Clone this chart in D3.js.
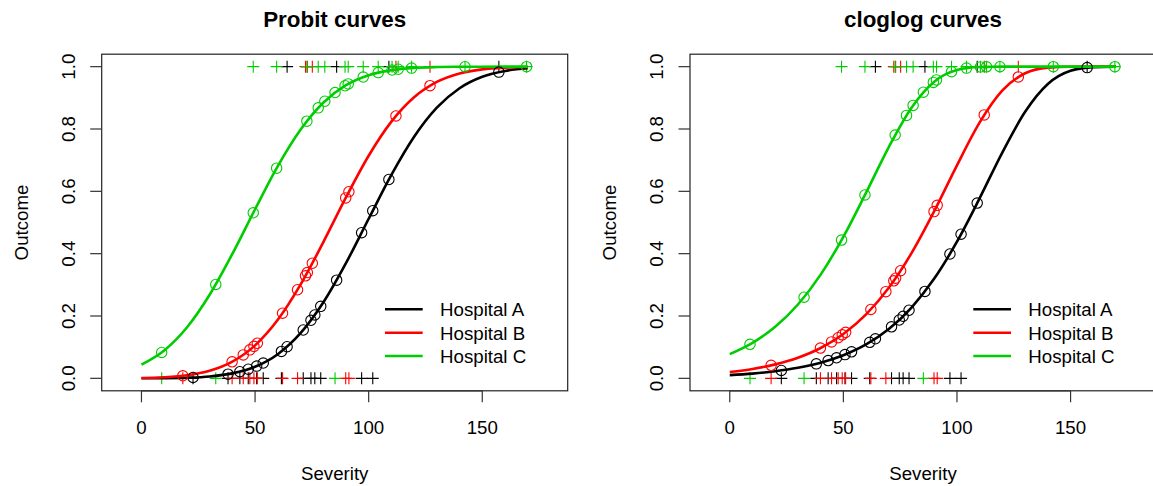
<!DOCTYPE html>
<html>
<head>
<meta charset="utf-8">
<script src="https://cdn.jsdelivr.net/npm/d3@7"></script>
<style>
  html, body { margin: 0; padding: 0; background: #ffffff; }
  svg { display: block; }
  text { font-family: "Liberation Sans", Arial, Helvetica, sans-serif; fill: #000; }
</style>
</head>
<body>
<svg id="chart" width="1153" height="486"></svg>
<script>
// ---------------- data ----------------
const hospitals = ["Hospital A", "Hospital B", "Hospital C"];
const colors = ["#000000", "#FF0000", "#00CD00"];
const panelTitles = ["Probit curves", "cloglog curves"];
const xTicks = [0, 50, 100, 150];
const yTicks = [0.0, 0.2, 0.4, 0.6, 0.8, 1.0];
const yTickLabels = ["0.0", "0.2", "0.4", "0.6", "0.8", "1.0"];

// observations: severity and outcome (0/1)
const severityA = [22.7, 38.1, 43.3, 47.0, 50.7, 53.6, 61.6, 64.1, 71.2, 74.6, 76.3, 78.9, 85.9, 96.9, 101.8, 108.9, 157.3];
const outcomeA  = [0, 0, 0, 0, 0, 0, 0, 1, 0, 0, 0, 0, 1, 0, 0, 1, 1];
const severityB = [18.2, 39.9, 44.8, 47.7, 49.5, 51.0, 62.1, 68.7, 72.2, 73.0, 75.2, 89.9, 91.3, 112.0, 127.0];
const outcomeB  = [0, 0, 0, 0, 0, 0, 0, 0, 1, 1, 1, 0, 0, 1, 1];
const severityC = [8.9, 32.7, 49.2, 59.5, 72.8, 77.8, 80.7, 85.2, 89.6, 91.0, 97.6, 104.2, 110.3, 113.0, 118.9, 142.4, 169.5];
const outcomeC  = [0, 0, 1, 1, 1, 1, 1, 0, 1, 1, 1, 1, 1, 1, 1, 1, 1];

// fitted probabilities at each observation (circles)
const probitFitA = [0.0028, 0.0133, 0.0213, 0.0291, 0.0392, 0.0491, 0.0863, 0.1015, 0.1550, 0.1862, 0.2033, 0.2309, 0.3149, 0.4673, 0.5378, 0.6380, 0.9826];
const probitFitB = [0.0081, 0.0530, 0.0752, 0.0914, 0.1026, 0.1126, 0.2090, 0.2843, 0.3289, 0.3394, 0.3692, 0.5789, 0.5987, 0.8418, 0.9390];
const probitFitC = [0.0830, 0.3012, 0.5311, 0.6744, 0.8251, 0.8678, 0.8890, 0.9170, 0.9387, 0.9446, 0.9667, 0.9810, 0.9892, 0.9917, 0.9954, 0.9997, 1.0000];
const cloglogFitA = [0.0253, 0.0465, 0.0570, 0.0659, 0.0761, 0.0851, 0.1155, 0.1269, 0.1653, 0.1871, 0.1991, 0.2185, 0.2788, 0.3990, 0.4624, 0.5623, 0.9970];
const cloglogFitB = [0.0417, 0.0971, 0.1169, 0.1304, 0.1396, 0.1475, 0.2210, 0.2782, 0.3129, 0.3213, 0.3453, 0.5350, 0.5550, 0.8453, 0.9671];
const cloglogFitC = [0.1091, 0.2603, 0.4436, 0.5884, 0.7806, 0.8436, 0.8757, 0.9181, 0.9495, 0.9575, 0.9838, 0.9954, 0.9990, 0.9995, 0.9999, 1.0000, 1.0000];

// fitted curves, read at severity 0,10,...,170
const curveSeverity = [0, 10, 20, 30, 40, 50, 60, 70, 80, 90, 100, 110, 120, 130, 140, 150, 160, 170];
const probitCurveA = [0.0002, 0.0006, 0.0020, 0.0060, 0.0159, 0.0371, 0.0775, 0.1448, 0.2432, 0.3696, 0.5120, 0.6528, 0.7752, 0.8684, 0.9308, 0.9675, 0.9864, 0.9949];
const probitCurveB = [0.0011, 0.0035, 0.0097, 0.0241, 0.0535, 0.1058, 0.1878, 0.3005, 0.4364, 0.5804, 0.7143, 0.8236, 0.9018, 0.9510, 0.9782, 0.9914, 0.9970, 0.9991];
const probitCurveC = [0.0438, 0.0893, 0.1631, 0.2680, 0.3990, 0.5426, 0.6810, 0.7976, 0.8842, 0.9405, 0.9727, 0.9888, 0.9960, 0.9987, 0.9996, 0.9999, 1.0000, 1.0000];
const cloglogCurveA = [0.0102, 0.0152, 0.0227, 0.0338, 0.0501, 0.0741, 0.1087, 0.1582, 0.2272, 0.3200, 0.4384, 0.5782, 0.7252, 0.8553, 0.9445, 0.9868, 0.9985, 0.9999];
const cloglogCurveB = [0.0202, 0.0301, 0.0448, 0.0662, 0.0974, 0.1422, 0.2051, 0.2906, 0.4018, 0.5364, 0.6834, 0.8211, 0.9239, 0.9788, 0.9969, 0.9998, 1.0000, 1.0000];
const cloglogCurveC = [0.0775, 0.1138, 0.1653, 0.2369, 0.3327, 0.4541, 0.5957, 0.7421, 0.8684, 0.9519, 0.9893, 0.9989, 1.0000, 1.0000, 1.0000, 1.0000, 1.0000, 1.0000];

// ---------------- drawing ----------------
const svg = d3.select("#chart");
const FS = 18.7;
const panelOffsets = [0, 588.3];

const severities = [severityA, severityB, severityC];
const outcomes = [outcomeA, outcomeB, outcomeC];
const panels = [
  { title: panelTitles[0], curves: [probitCurveA, probitCurveB, probitCurveC], fits: [probitFitA, probitFitB, probitFitC] },
  { title: panelTitles[1], curves: [cloglogCurveA, cloglogCurveB, cloglogCurveC], fits: [cloglogFitA, cloglogFitB, cloglogFitC] }
];

panels.forEach((p, pi) => {
  const ox = panelOffsets[pi];
  const left = 101.7 + ox, right = 567.7 + ox, top = 54.2, bottom = 390.8;
  const x = d3.scaleLinear().domain([-17.5, 187.6]).range([left, right]);
  const y = d3.scaleLinear().domain([-0.04, 1.04]).range([bottom, top]);
  const g = svg.append("g");

  // observed outcomes as "+"
  hospitals.forEach((h, hi) => {
    const pts = severities[hi].map((s, i) => ({ s, o: outcomes[hi][i] }));
    const pg = g.append("g").attr("stroke", colors[hi]).attr("stroke-width", 1.1).attr("fill", "none");
    pts.forEach(d => {
      const cx = x(d.s), cy = y(d.o), r = 6;
      pg.append("path").attr("d", `M${cx - r},${cy}H${cx + r}M${cx},${cy - r}V${cy + r}`);
    });
  });

  // fitted curves
  const line = d3.line()
    .x((d, i) => x(curveSeverity[i]))
    .y(d => y(d))
    .curve(d3.curveMonotoneX);
  hospitals.forEach((h, hi) => {
    g.append("path")
      .attr("d", line(p.curves[hi]))
      .attr("fill", "none")
      .attr("stroke", colors[hi])
      .attr("stroke-width", 2.6);
  });

  // fitted values as circles
  hospitals.forEach((h, hi) => {
    g.append("g").selectAll("circle")
      .data(severities[hi].map((s, i) => ({ s, f: p.fits[hi][i] })))
      .join("circle")
      .attr("cx", d => x(d.s))
      .attr("cy", d => y(d.f))
      .attr("r", 5.2)
      .attr("fill", "none")
      .attr("stroke", colors[hi])
      .attr("stroke-width", 1.1);
  });

  // box
  g.append("rect")
    .attr("x", left).attr("y", top)
    .attr("width", right - left).attr("height", bottom - top)
    .attr("fill", "none").attr("stroke", "#222").attr("stroke-width", 1.2);

  // x axis
  const xa = g.append("g");
  xTicks.forEach(t => {
    xa.append("line").attr("x1", x(t)).attr("x2", x(t)).attr("y1", bottom).attr("y2", bottom + 11.5)
      .attr("stroke", "#333").attr("stroke-width", 1.2);
    xa.append("text").attr("x", x(t)).attr("y", 434).attr("text-anchor", "middle")
      .style("font-size", FS + "px").text(t);
  });
  xa.append("line").attr("x1", x(xTicks[0])).attr("x2", x(xTicks[xTicks.length - 1]))
    .attr("y1", bottom).attr("y2", bottom).attr("stroke", "#333").attr("stroke-width", 1.2);

  // y axis
  const ya = g.append("g");
  yTicks.forEach((t, i) => {
    ya.append("line").attr("x1", left).attr("x2", left - 11.5).attr("y1", y(t)).attr("y2", y(t))
      .attr("stroke", "#333").attr("stroke-width", 1.2);
    ya.append("text").attr("transform", `translate(${75 + ox},${y(t)}) rotate(-90)`)
      .attr("text-anchor", "middle").style("font-size", FS + "px").text(yTickLabels[i]);
  });

  // titles
  const cx = (left + right) / 2;
  g.append("text").attr("x", cx).attr("y", 27).attr("text-anchor", "middle")
    .style("font-size", "22.4px").style("font-weight", "bold").text(p.title);
  g.append("text").attr("x", cx).attr("y", 480).attr("text-anchor", "middle")
    .style("font-size", FS + "px").text("Severity");
  g.append("text").attr("transform", `translate(${28 + ox},${(top + bottom) / 2}) rotate(-90)`)
    .attr("text-anchor", "middle").style("font-size", FS + "px").text("Outcome");

  // legend
  const rows = [309.3, 332.7, 356.0];
  hospitals.forEach((h, hi) => {
    g.append("line").attr("x1", 385 + ox).attr("x2", 422.7 + ox).attr("y1", rows[hi]).attr("y2", rows[hi])
      .attr("stroke", colors[hi]).attr("stroke-width", 2.6);
    g.append("text").attr("x", 440 + ox).attr("y", rows[hi] + 6.8)
      .style("font-size", FS + "px").text(h);
  });
});
</script>
</body>
</html>
